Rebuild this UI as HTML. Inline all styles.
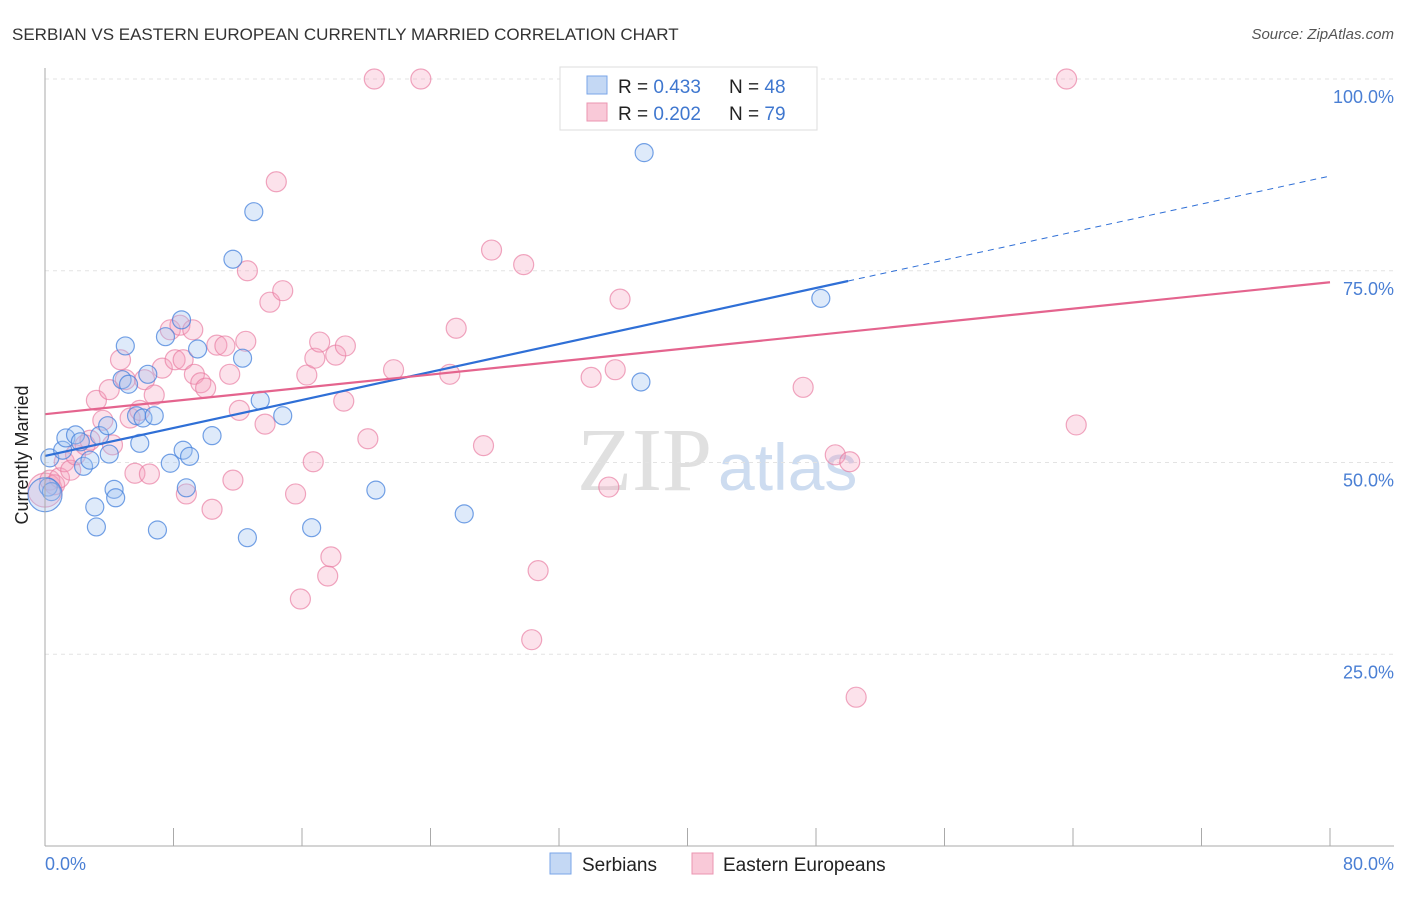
<!DOCTYPE html>
<html><head><meta charset="utf-8"><style>
body{margin:0;background:#fff;font-family:"Liberation Sans",sans-serif}
</style></head><body>
<svg id="c" width="1406" height="892" xmlns="http://www.w3.org/2000/svg">
<text x="12" y="40" font-size="17" fill="#333">SERBIAN VS EASTERN EUROPEAN CURRENTLY MARRIED CORRELATION CHART</text>
<text x="1394" y="39" font-size="15" fill="#555" font-style="italic" text-anchor="end">Source: ZipAtlas.com</text>
<text x="712" y="490" font-size="90" fill="#e0e0e0" font-family="Liberation Serif" text-anchor="end">ZIP</text>
<text x="718" y="490" font-size="66" fill="#cddcf0">atlas</text>
<g id="grid"></g><g id="pts"></g><g id="lines"></g>
<line x1="45" y1="68" x2="45" y2="846" stroke="#aaa"/>
<line x1="45" y1="846" x2="1394" y2="846" stroke="#aaa"/>
<text x="28" y="455" font-size="18" fill="#222" text-anchor="middle" transform="rotate(-90 28 455)">Currently Married</text>
<text x="45" y="870" font-size="18" fill="#4a7fd4">0.0%</text>
<text x="1394" y="870" font-size="18" fill="#4a7fd4" text-anchor="end">80.0%</text>
<g>
<rect x="560" y="67" width="257" height="63" fill="#fff" stroke="#ddd"/>
<rect x="587" y="76" width="20" height="18" fill="#c4d8f4" stroke="#7aa6e8"/>
<rect x="587" y="103" width="20" height="18" fill="#f9c9d8" stroke="#eb95b1"/>
<text x="618" y="93" font-size="19" fill="#222">R = <tspan fill="#3f77cf">0.433</tspan></text>
<text x="729" y="93" font-size="19" fill="#222">N = <tspan fill="#3f77cf">48</tspan></text>
<text x="618" y="120" font-size="19" fill="#222">R = <tspan fill="#3f77cf">0.202</tspan></text>
<text x="729" y="120" font-size="19" fill="#222">N = <tspan fill="#3f77cf">79</tspan></text>
</g>
<g>
<rect x="550" y="853" width="21" height="21" fill="#c4d8f4" stroke="#7aa6e8"/>
<text x="582" y="871" font-size="19" fill="#222">Serbians</text>
<rect x="692" y="853" width="21" height="21" fill="#f9c9d8" stroke="#eb95b1"/>
<text x="723" y="871" font-size="19" fill="#222">Eastern Europeans</text>
</g>
</svg>
<script>
const yTicks=[25,50,75,100];
const xTicks=[0,8,16,24,32,40,48,56,64,72,80];
const serbX=[0.3,0.2,0.4,1.1,1.3,1.9,2.2,2.4,2.8,3.1,3.2,3.4,3.9,4.0,4.3,4.4,4.8,5.0,5.2,5.7,5.9,6.1,6.4,6.8,7.0,7.5,7.8,8.5,8.6,8.8,9.0,9.5,10.4,11.7,12.3,12.6,13.0,13.4,14.8,16.6,20.6,26.1,37.1,37.3,48.3,0.0];
const serbY=[50.6,46.8,46.2,51.6,53.2,53.6,52.7,49.5,50.3,44.2,41.6,53.5,54.8,51.1,46.5,45.4,60.8,65.2,60.2,56.1,52.5,55.8,61.5,56.1,41.2,66.4,49.9,68.6,51.6,46.7,50.8,64.8,53.5,76.5,63.6,40.2,82.7,58.1,56.1,41.5,46.4,43.3,60.5,90.4,71.4,45.8];
const eeX=[0,0.3,0.6,0.9,1.2,1.6,1.9,2.5,2.8,3.2,3.6,4.0,4.2,4.7,5.0,5.3,5.6,5.9,6.2,6.5,6.8,7.3,7.8,8.1,8.4,8.6,8.8,9.2,9.3,9.7,10.0,10.4,10.7,11.2,11.5,11.7,12.1,12.5,12.6,13.7,14.0,14.4,14.8,15.6,15.9,16.3,16.7,16.8,17.1,17.6,17.8,18.1,18.6,18.7,20.1,20.5,21.7,23.4,25.2,25.6,27.3,27.8,29.8,30.3,30.7,34.0,35.1,35.5,35.8,47.2,49.2,50.1,50.5,63.6,64.2,41.4];
const eeY=[46.4,47.7,47.1,48.0,50.1,49.0,51.0,52.3,52.9,58.1,55.5,59.5,52.3,63.4,60.8,55.8,48.6,56.8,60.8,48.5,58.8,62.3,67.3,63.4,67.9,63.4,45.9,67.3,61.5,60.4,59.7,43.9,65.3,65.2,61.5,47.7,56.8,65.8,75.0,55.0,70.9,86.6,72.4,45.9,32.2,61.4,50.1,63.6,65.7,35.2,37.7,64.0,58.0,65.2,53.1,100,62.1,100,61.5,67.5,52.2,77.7,75.8,26.9,35.9,61.1,46.8,62.1,71.3,59.8,51.0,50.1,19.4,100,54.9,100];
const serbLine=[50.85,87.35], serbSolidEnd=50, eeLine=[56.3,73.5];
const NS='http://www.w3.org/2000/svg';
const sx=v=>45+v/80*1285, sy=v=>846-v/100*767;
function mk(t,a,p){const e=document.createElementNS(NS,t);for(const k in a)e.setAttribute(k,a[k]);p.appendChild(e);return e;}
const g=document.getElementById('grid');
yTicks.forEach(t=>{
 const l=mk('line',{x1:45,x2:1394,y1:sy(t),y2:sy(t),stroke:'#e3e3e3','stroke-dasharray':'4,4'},g);
 
 
 const tx=mk('text',{x:1394,y:sy(t)+24,'font-size':18,fill:'#4a7fd4','text-anchor':'end'},g);
 tx.textContent=t.toFixed(1)+'%';
 
 
});
xTicks.forEach(t=>{
 const l=mk('line',{x1:sx(t),x2:sx(t),y1:828,y2:846,stroke:'#aaa'},g);
 
 
});
const p=document.getElementById('pts');
eeX.forEach((x,i)=>{
 const r=x===0?17:10;
 const c=mk('circle',{cx:sx(x),cy:sy(eeY[i]),r:r,fill:'rgba(244,160,188,0.3)',stroke:'rgba(232,120,158,0.65)','stroke-width':1.2},p);
 
 
});
serbX.forEach((x,i)=>{
 const r=x===0?17:9;
 const c=mk('circle',{cx:sx(x),cy:sy(serbY[i]),r:r,fill:'rgba(160,196,240,0.35)',stroke:'rgba(70,130,220,0.75)','stroke-width':1.2},p);
 
 
});
const L=document.getElementById('lines');
const by=x=>serbLine[0]+(serbLine[1]-serbLine[0])*x/80;
let a=mk('line',{x1:sx(0),y1:sy(by(0)),x2:sx(serbSolidEnd),y2:sy(by(serbSolidEnd)),stroke:'#2f6fd6','stroke-width':2.2},L);


a=mk('line',{x1:sx(serbSolidEnd),y1:sy(by(serbSolidEnd)),x2:sx(80),y2:sy(by(80)),stroke:'#2f6fd6','stroke-width':1,'stroke-dasharray':'6,5'},L);


a=mk('line',{x1:sx(0),y1:sy(eeLine[0]),x2:sx(80),y2:sy(eeLine[1]),stroke:'#e4648e','stroke-width':2.2},L);


</script>
</body></html>
